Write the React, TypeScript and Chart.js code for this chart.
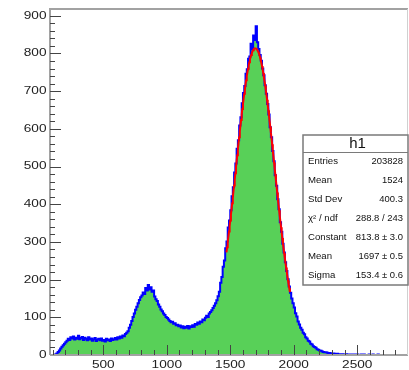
import { useEffect, useRef } from "react";
import { Chart, registerables } from "chart.js";

Chart.register(...registerables);

// Histogram binning: bins of width 10 starting at 100
const BIN_START = 100;
const BIN_WIDTH = 10;

// Bin contents, one row per 100 units (100 .. 2900)
const counts = [
  0, 0, 1, 4, 8, 12, 17, 22, 26, 30,
  34, 38, 43, 40, 47, 44, 49, 41, 46, 43,
  51, 42, 45, 48, 40, 46, 43, 39, 47, 41,
  44, 38, 42, 45, 37, 41, 43, 39, 44, 38,
  40, 36, 43, 39, 41, 37, 44, 40, 42, 45,
  41, 47, 44, 49, 46, 52, 50, 56, 59, 63,
  72, 80, 90, 101, 110, 120, 128, 137, 146, 153,
  158, 166, 162, 178, 171, 186, 174, 180, 168, 171,
  155, 148, 143, 134, 128, 121, 116, 110, 106, 101,
  98, 94, 90, 87, 88, 83, 84, 79, 80, 76,
  78, 73, 76, 71, 75, 72, 77, 70, 76, 74,
  79, 75, 82, 80, 86, 83, 89, 87, 94, 92,
  99, 104, 101, 110, 114, 119, 125, 131, 137, 145,
  156, 168, 192, 207, 234, 251, 283, 301, 338, 357,
  384, 421, 445, 484, 508, 547, 570, 609, 631, 668,
  695, 714, 746, 758, 786, 792, 826, 812, 848, 836,
  872, 830, 812, 796, 781, 760, 742, 716, 693, 666,
  638, 604, 578, 541, 514, 477, 449, 413, 387, 352,
  327, 295, 272, 246, 223, 201, 182, 165, 150, 137,
  126, 111, 102, 89, 81, 72, 67, 59, 55, 47,
  44, 38, 36, 30, 28, 23, 21, 19, 15, 14,
  12, 11, 9, 8, 7, 7, 6, 5, 5, 4,
  3, 4, 3, 2, 3, 2, 2, 1, 2, 1,
  1, 2, 1, 1, 0, 1, 1, 0, 1, 0,
  1, 0, 0, 1, 0, 1, 0, 0, 0, 1,
  0, 0, 1, 0, 0, 0, 1, 0, 0, 0,
  0, 0, 0, 0, 0, 0, 0, 0, 0, 0,
  0, 0, 0, 0, 0, 0, 0, 0, 0, 0,
];

// Axis ranges
const X_MIN = 80;
const X_MAX = 2900;
const Y_MAX = 918;

const xTickLabels = [500, 1000, 1500, 2000, 2500];
const yTickLabels = [0, 100, 200, 300, 400, 500, 600, 700, 800, 900];

// Gaussian fit parameters and range
const fitConstant = 813.8;
const fitMean = 1697;
const fitSigma = 153.4;
const FIT_FROM = 1470;
const FIT_TO = 1970;

// Statistics box
const statsTitle = "h1";
const statsLabels = ["Entries", "Mean", "Std Dev", "\u03c7\u00b2 / ndf", "Constant", "Mean", "Sigma"];
const statsValues = ["203828", "1524", "400.3", "288.8 / 243", "813.8 \u00b1 3.0", "1697 \u00b1 0.5", "153.4 \u00b1 0.6"];

const FONT = "'Liberation Sans', Arial, Helvetica, sans-serif";

function drawText(
  ctx: CanvasRenderingContext2D,
  s: string,
  x: number,
  y: number,
  size: number,
  align: CanvasTextAlign,
  sx: number,
  color = "#111"
) {
  ctx.save();
  ctx.translate(x, y);
  ctx.scale(sx, 1);
  ctx.font = `${size}px ${FONT}`;
  ctx.fillStyle = color;
  ctx.textAlign = align;
  ctx.textBaseline = "middle";
  ctx.fillText(s, 0, 0);
  ctx.restore();
}

const rootStyle = {
  id: "rootStyle",
  beforeDraw(chart: any) {
    const { ctx, width, height } = chart;
    ctx.save();
    ctx.fillStyle = "#ffffff";
    ctx.fillRect(0, 0, width, height);
    ctx.restore();
  },
  afterDatasetsDraw(chart: any) {
    const { ctx, chartArea } = chart;
    const xs = chart.scales.x;
    const ys = chart.scales.y;
    const { left, right, top, bottom } = chartArea;

    ctx.save();
    // frame
    ctx.strokeStyle = "#a2a2a2";
    ctx.lineWidth = 2;
    ctx.beginPath();
    ctx.moveTo(left, bottom);
    ctx.lineTo(left, top);
    ctx.lineTo(right, top);
    ctx.stroke();
    ctx.beginPath();
    ctx.moveTo(left, bottom);
    ctx.lineTo(right, bottom);
    ctx.stroke();
    ctx.lineWidth = 1;
    ctx.strokeStyle = "#d0d0d0";
    ctx.beginPath();
    ctx.moveTo(right - 0.5, top);
    ctx.lineTo(right - 0.5, bottom);
    ctx.stroke();

    // x ticks
    ctx.strokeStyle = "#444";
    ctx.lineWidth = 1;
    for (let v = 100; v <= X_MAX; v += 100) {
      const px = Math.round(xs.getPixelForValue(v)) + 0.5;
      if (px <= left + 1 || px >= right - 1) continue;
      const len = v % 500 === 0 ? 10 : 5;
      ctx.beginPath();
      ctx.moveTo(px, bottom);
      ctx.lineTo(px, bottom - len);
      ctx.stroke();
    }
    // y ticks
    for (let v = 0; v <= Y_MAX; v += 20) {
      const py = Math.round(ys.getPixelForValue(v)) + 0.5;
      if (py >= bottom - 1 || py <= top + 1) continue;
      const len = v % 100 === 0 ? 11 : 5;
      ctx.beginPath();
      ctx.moveTo(left, py);
      ctx.lineTo(left + len, py);
      ctx.stroke();
    }
    ctx.restore();

    // tick labels
    xTickLabels.forEach((v) => {
      drawText(ctx, String(v), xs.getPixelForValue(v), bottom + 10, 10.5, "center", 1.3, "#222");
    });
    yTickLabels.forEach((v) => {
      drawText(ctx, String(v), left - 3.5, ys.getPixelForValue(v), 10.5, "right", 1.3, "#222");
    });

    // statistics box
    const bx = 303;
    const by = 135;
    const bw = 105;
    const bh = 150;
    ctx.save();
    ctx.fillStyle = "#ffffff";
    ctx.fillRect(bx, by, bw, bh);
    ctx.strokeStyle = "#7a7a7a";
    ctx.lineWidth = 1.5;
    ctx.strokeRect(bx, by, bw, bh);
    ctx.lineWidth = 1;
    ctx.beginPath();
    ctx.moveTo(bx, by + 17.5);
    ctx.lineTo(bx + bw, by + 17.5);
    ctx.stroke();
    ctx.restore();

    drawText(ctx, statsTitle, bx + bw / 2 + 2, by + 9, 14, "center", 1.07, "#111");
    statsLabels.forEach((lab, i) => {
      const y = by + 27 + i * 18.9;
      drawText(ctx, lab, bx + 5, y, 8.6, "left", 1.12, "#111");
      drawText(ctx, statsValues[i], bx + bw - 5, y, 8.6, "right", 1.1, "#111");
    });
  },
};

export default function App() {
  const canvasRef = useRef<HTMLCanvasElement | null>(null);

  useEffect(() => {
    const canvas = canvasRef.current;
    if (!canvas) return;

    const histPoints = counts.map((c, i) => ({ x: BIN_START + i * BIN_WIDTH, y: c }));
    histPoints.push({ x: BIN_START + counts.length * BIN_WIDTH, y: counts[counts.length - 1] });

    const fitPoints: { x: number; y: number }[] = [];
    for (let x = FIT_FROM; x <= FIT_TO; x += 5) {
      const z = (x - fitMean) / fitSigma;
      fitPoints.push({ x, y: fitConstant * Math.exp(-0.5 * z * z) });
    }

    const chart = new Chart(canvas, {
      type: "line",
      data: {
        datasets: [
          {
            label: "gaus",
            data: fitPoints,
            borderColor: "#ff0000",
            borderWidth: 2,
            fill: false,
            pointRadius: 0,
            tension: 0,
            order: 0,
          },
          {
            label: "h1",
            data: histPoints,
            stepped: true,
            borderColor: "#0000ff",
            borderWidth: 2,
            backgroundColor: "#58d058",
            fill: "origin",
            pointRadius: 0,
            tension: 0,
            order: 1,
          },
        ],
      },
      options: {
        animation: false,
        responsive: false,
        devicePixelRatio: 1,
        layout: { padding: { left: 50, top: 9, right: 1, bottom: 15 } },
        plugins: {
          legend: { display: false },
          tooltip: { enabled: false },
        },
        scales: {
          x: { type: "linear", min: X_MIN, max: X_MAX, display: false },
          y: { type: "linear", min: 0, max: Y_MAX, display: false },
        },
      },
      plugins: [rootStyle],
    });

    return () => chart.destroy();
  }, []);

  return (
    <div style={{ position: "fixed", left: 0, top: 0, width: 409, height: 370, background: "#fff" }}>
      <canvas ref={canvasRef} width={409} height={370} style={{ display: "block" }} />
    </div>
  );
}
